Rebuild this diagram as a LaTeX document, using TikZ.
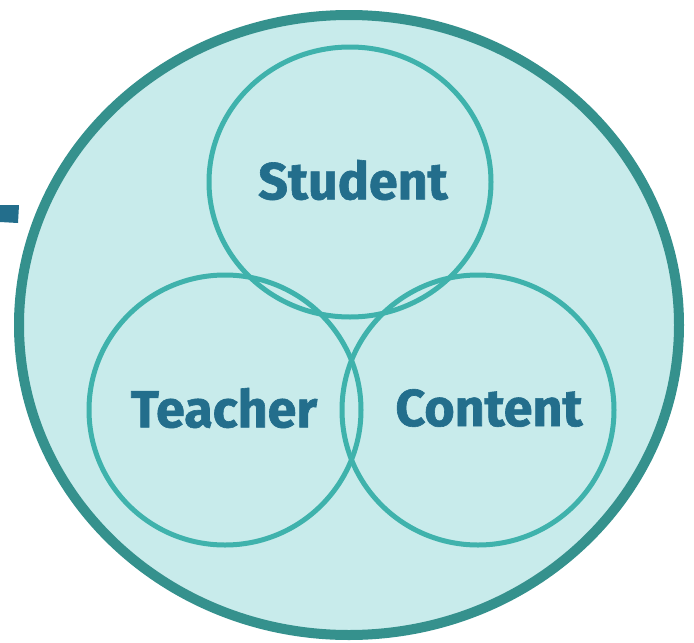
\documentclass[tikz,border=0pt]{standalone}
\usepackage{fontspec}
\setmainfont{Fira Sans}[BoldFeatures={FakeBold=1.2}]
\definecolor{outerfill}{HTML}{C8EBEB}
\definecolor{outerline}{HTML}{35918D}
\definecolor{innerline}{HTML}{3FB2AC}
\definecolor{textblue}{HTML}{236E8C}
\tikzset{
  venn/.style={draw=innerline, line width=5pt},
  lbl/.style={text=textblue, font=\bfseries\fontsize{52}{60}\selectfont, inner sep=0pt}
}
\begin{document}
\begin{tikzpicture}[x=1pt,y=-1pt]
\useasboundingbox (0,0) rectangle (694,643);
\fill[textblue] (0,205) -- (19,205) -- (18,223) -- (0,222) -- cycle;
\draw[fill=outerfill, draw=outerline, line width=10pt] (349,325) ellipse [x radius=330, y radius=310];
\draw[venn] (350,182) ellipse [x radius=141, y radius=135];
\draw[venn] (225,410) ellipse [x radius=136, y radius=135];
\draw[venn] (478,410) ellipse [x radius=136, y radius=135];
\node[lbl] (student) at (353,180) {Student};
\node[lbl] (teacher) at (224,408) {Teacher};
\node[lbl] (content) at (489,408) {Content};
\end{tikzpicture}
\end{document}
